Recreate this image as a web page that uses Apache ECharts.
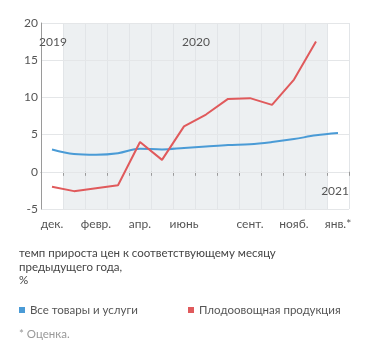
<!DOCTYPE html>
<html>
<head>
<meta charset="utf-8">
<script src="https://cdn.jsdelivr.net/npm/echarts@6/dist/echarts.min.js"></script>
<style>
html,body{margin:0;padding:0;background:#fff;}
#chart{width:371px;height:357px;}
</style>
</head>
<body>
<div id="chart"></div>
<script>
var months = ['дек.2019','янв.','февр.','март','апр.','май','июнь','июль','авг.','сент.','окт.','нояб.','дек.','янв.2021'];
var monthLabels = ['дек.','','февр.','','апр.','','июнь','','','сент.','','нояб.','','янв.*'];
var allGoods = [3.0, 2.4, 2.3, 2.5, 3.1, 3.0, 3.2, 3.4, 3.6, 3.7, 4.0, 4.4, 4.9, 5.2];
var fruitVeg = [-2.0, -2.6, -2.2, -1.8, 4.0, 1.6, 6.1, 7.7, 9.8, 9.9, 9.0, 12.4, 17.5, null];
var yearLabels = ['2019', '2020', '2021'];
var seriesNames = ['Все товары и услуги', 'Плодоовощная продукция'];

var FONT = 'Lato';
var FS = 11.5;
var shade = months.map(function (m, i) {
  return (i === 0 || i === months.length - 1) ? 'rgba(0,0,0,0)' : '#edf0f2';
});

var chart = echarts.init(document.getElementById('chart'));
chart.setOption({
  animation: false,
  textStyle: { fontFamily: FONT },
  grid: { left: 41, right: 22, top: 23, bottom: 148, containLabel: false },
  xAxis: {
    type: 'category',
    data: months,
    boundaryGap: true,
    z: 0,
    axisLine: { show: true, lineStyle: { color: '#9a9a9a', width: 1 } },
    axisTick: { show: true, interval: 0, length: 4, lineStyle: { color: '#9a9a9a' } },
    axisLabel: {
      interval: 0, margin: 9, color: '#555', fontSize: 12, fontFamily: FONT,
      formatter: function (v, i) { return monthLabels[i]; }
    },
    splitLine: { show: true, interval: 0, lineStyle: { color: '#e2e5e8', width: 1 } },
    splitArea: { show: true, interval: 0, areaStyle: { color: shade } }
  },
  yAxis: {
    type: 'value',
    min: -5, max: 20, interval: 5,
    z: 1,
    axisLine: { show: true, lineStyle: { color: '#9a9a9a', width: 1 } },
    axisTick: { show: false },
    axisLabel: { margin: 3, color: '#555', fontSize: 12, fontFamily: FONT },
    splitLine: { show: true, lineStyle: { color: '#e4e6e8', width: 1 } }
  },
  legend: [
    { data: [seriesNames[0]], left: 14, top: 299, icon: 'rect', itemWidth: 6, itemHeight: 6, itemGap: 8,
      textStyle: { color: '#555', fontSize: FS, fontFamily: FONT } },
    { data: [seriesNames[1]], left: 183, top: 299, icon: 'rect', itemWidth: 6, itemHeight: 6, itemGap: 8,
      textStyle: { color: '#555', fontSize: FS, fontFamily: FONT } }
  ],
  series: [
    { name: seriesNames[0], type: 'line', data: allGoods, smooth: 0.35, showSymbol: false, symbol: 'none',
      itemStyle: { color: '#4a9bd6' }, lineStyle: { color: '#4a9bd6', width: 2 }, z: 3 },
    { name: seriesNames[1], type: 'line', data: fruitVeg, smooth: false, showSymbol: false, symbol: 'none',
      itemStyle: { color: '#e05a5c' }, lineStyle: { color: '#e05a5c', width: 2 }, z: 4 }
  ],
  graphic: [
    { type: 'text', left: 39, top: 36, z: 10, style: { text: yearLabels[0], fill: '#555', font: '12px ' + FONT } },
    { type: 'text', left: 182, top: 36, z: 10, style: { text: yearLabels[1], fill: '#555', font: '12px ' + FONT } },
    { type: 'text', right: 22, top: 185, z: 10, style: { text: yearLabels[2], fill: '#555', font: '12px ' + FONT } },
    { type: 'text', left: 19, top: 247, style: { text: 'темп прироста цен к соответствующему месяцу', fill: '#444', font: FS + 'px ' + FONT } },
    { type: 'text', left: 19, top: 261, style: { text: 'предыдущего года,', fill: '#444', font: FS + 'px ' + FONT } },
    { type: 'text', left: 19, top: 274, style: { text: '%', fill: '#444', font: FS + 'px ' + FONT } },
    { type: 'text', left: 19, top: 328, style: { text: '* Оценка.', fill: '#999', font: FS + 'px ' + FONT } }
  ]
});
</script>
</body>
</html>
